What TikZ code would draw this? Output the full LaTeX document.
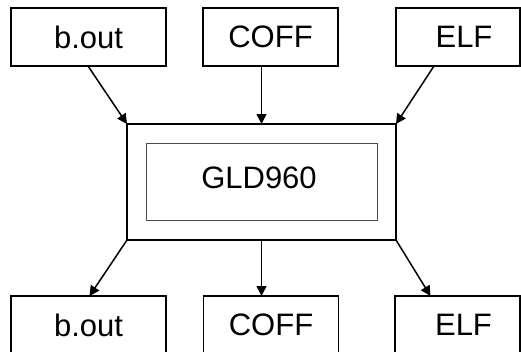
\documentclass[tikz,border=0pt]{standalone}
\usepackage{fontspec}
\setmainfont{Liberation Sans}
\usetikzlibrary{arrows.meta}
\begin{document}
\begin{tikzpicture}[x=1pt,y=-1pt,
  lbl/.style={font=\fontsize{31}{36}\selectfont,inner sep=0pt},
  fmt/.style={draw=black,line width=1.5pt,minimum width=#1,minimum height=58pt,inner sep=0pt,outer sep=0pt,font=\fontsize{31}{36}\selectfont},
  arr/.style={line width=1.5pt,-{Triangle[length=10pt,width=10pt]}}]
\useasboundingbox (0,0) rectangle (521,351);
\clip (0,0) rectangle (521,351);
% top boxes
\node[fmt=155pt] (tb) at (88.5,37) {b.out};
\node[fmt=135pt] (tc) at (270.5,37) {COFF};
\node[fmt=124pt] (te) at (458,37) {\hspace*{12pt}ELF};
% central boxes
\node[draw=black,line width=2pt,minimum width=269pt,minimum height=116pt,inner sep=0pt,outer sep=0pt] (outer) at (261.5,182) {};
\node[draw=black!70,line width=1pt,minimum width=231pt,minimum height=77pt,inner sep=0pt,outer sep=0pt] (inner) at (261.5,181.5) {};
\node[lbl] (glabel) at (259,178) {GLD960};
% bottom boxes
\node[fmt=155pt] (bb) at (88.5,325) {b.out};
\node[fmt=135pt] (bc) at (271,325) {COFF};
\node[fmt=125pt] (be) at (457.5,325) {\hspace*{12pt}ELF};
% arrows in
\draw[arr] ([xshift=-0.5pt]tb.south) -- (outer.north west);
\draw[arr] ([xshift=-9pt]tc.south) -- ([xshift=0pt]outer.north);
\draw[arr] ([xshift=-24pt]te.south) -- (outer.north east);
% arrows out
\draw[arr] (outer.south west) -- ([xshift=1pt]bb.north);
\draw[arr] (outer.south) -- ([xshift=-9.5pt]bc.north);
\draw[arr] (outer.south east) -- ([xshift=-27pt]be.north);
\end{tikzpicture}
\end{document}
